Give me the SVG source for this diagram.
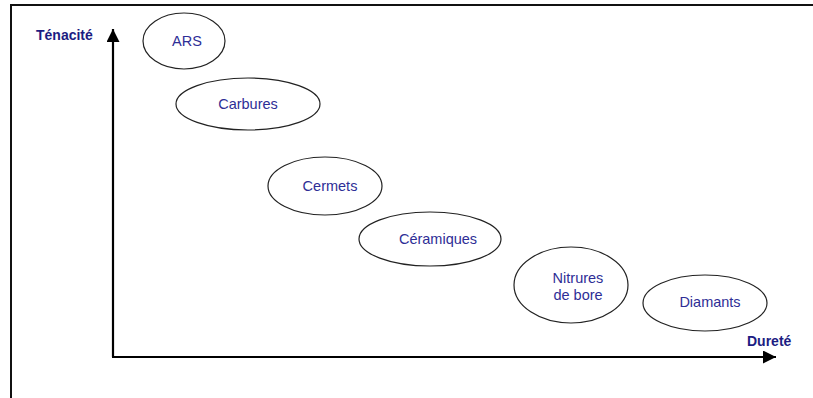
<svg xmlns="http://www.w3.org/2000/svg" width="813" height="398" viewBox="0 0 813 398">
<style>
.node ellipse{fill:#fff;stroke:#222;stroke-width:1.2}
.node text{font-family:"Liberation Sans",Arial,sans-serif;font-size:14.5px;fill:#2e2e96;text-anchor:middle}
.axis{stroke:#000;stroke-width:2.2;fill:none}
.lbl{font-family:"Liberation Sans",Arial,sans-serif;font-size:14px;font-weight:bold;fill:#1c1c82}
</style>
<defs>
<marker id="ah" viewBox="0 0 12 12" refX="12" refY="6" markerWidth="13" markerHeight="13" markerUnits="userSpaceOnUse" orient="auto">
<path d="M0,0 L12,6 L0,12 Z" fill="#000"/>
</marker>
</defs>
<rect x="0" y="0" width="813" height="398" fill="#fff"/>
<rect x="11" y="5" width="810" height="400" fill="none" stroke="#111" stroke-width="2"/>
<g id="connectors">
<path class="axis" d="M113,357 L113,29" marker-end="url(#ah)"/>
<path class="axis" d="M112,357 L776,357" marker-end="url(#ah)"/>
</g>
<text class="lbl" x="36" y="40">Ténacité</text>
<text class="lbl" x="747" y="346">Dureté</text>
<g id="ars" class="node"><ellipse cx="184" cy="41" rx="41" ry="28"/><text x="187" y="46">ARS</text></g>
<g id="carbures" class="node"><ellipse cx="248" cy="104" rx="72" ry="26"/><text x="248" y="109">Carbures</text></g>
<g id="cermets" class="node"><ellipse cx="325" cy="186" rx="57" ry="29"/><text x="330" y="191">Cermets</text></g>
<g id="ceramiques" class="node"><ellipse cx="430" cy="239" rx="71" ry="27"/><text x="438" y="244">Céramiques</text></g>
<g id="nitrures" class="node"><ellipse cx="571" cy="285" rx="57" ry="38"/><text x="578" y="283">Nitrures</text><text x="578" y="300">de bore</text></g>
<g id="diamants" class="node"><ellipse cx="705" cy="303" rx="62" ry="28"/><text x="710" y="307">Diamants</text></g>
</svg>
